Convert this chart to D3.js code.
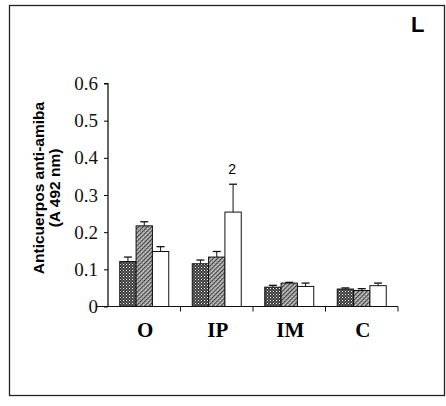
<!DOCTYPE html>
<html>
<head>
<meta charset="utf-8">
<script src="https://cdn.jsdelivr.net/npm/d3@7"></script>
<style>
  body { margin: 0; background: #fff; }
  svg { display: block; }
</style>
</head>
<body>
<div id="chart"></div>
<script>
"use strict";

// data
var groups = ["O", "IP", "IM", "C"];
var series = ["s1", "s2", "s3"];
var means = [
  [0.121, 0.217, 0.148],
  [0.115, 0.133, 0.254],
  [0.052, 0.063, 0.054],
  [0.047, 0.043, 0.056]
];
var errors = [
  [0.012, 0.011, 0.013],
  [0.010, 0.015, 0.075],
  [0.005, 0.002, 0.009],
  [0.003, 0.005, 0.007]
];
var yTicks = [0, 0.1, 0.2, 0.3, 0.4, 0.5, 0.6];
var annotations = [{ group: "IP", series: "s3", text: "2" }];

var W = 446, H = 406;
var plot = { left: 108, right: 398, top: 83.5, bottom: 306.5 };

var svg = d3.select("#chart").append("svg").attr("width", W).attr("height", H);

// fill patterns for the three series
var defs = svg.append("defs");
var p1 = defs.append("pattern").attr("id", "pat1").attr("patternUnits", "userSpaceOnUse")
  .attr("width", 3).attr("height", 3);
p1.append("rect").attr("width", 3).attr("height", 3).attr("fill", "#3a3a3a");
p1.append("rect").attr("width", 1).attr("height", 1).attr("fill", "#fff");
p1.append("rect").attr("x", 1.5).attr("y", 1.5).attr("width", 1).attr("height", 1).attr("fill", "#bbb");

var p2 = defs.append("pattern").attr("id", "pat2").attr("patternUnits", "userSpaceOnUse")
  .attr("width", 3).attr("height", 3).attr("patternTransform", "rotate(45)");
p2.append("rect").attr("width", 3).attr("height", 3).attr("fill", "#d0d0d0");
p2.append("rect").attr("width", 1.2).attr("height", 3).attr("fill", "#333");
p2.append("rect").attr("y", 1).attr("width", 3).attr("height", 0.6).attr("fill", "#777");

var fills = { s1: "url(#pat1)", s2: "url(#pat2)", s3: "#fff" };

// frame around the panel
svg.append("rect").attr("x", 9.5).attr("y", 5.5).attr("width", 435).attr("height", 390)
  .attr("fill", "none").attr("stroke", "#222").attr("stroke-width", 1.3);

svg.append("text").attr("x", 411).attr("y", 32)
  .style("font-family", "Liberation Sans, Arial, sans-serif").style("font-size", "22px")
  .style("font-weight", "bold").text("L");

var x = d3.scaleBand().domain(groups).range([plot.left, plot.right]).paddingInner(0).paddingOuter(0);
var xInner = d3.scaleBand().domain(series).range([0, 49]);
var y = d3.scaleLinear().domain([0, 0.6]).range([plot.bottom, plot.top]);

var chart = svg.append("g");

// y axis
var yAxis = d3.axisLeft(y).tickValues(yTicks).tickSize(4).tickPadding(6)
  .tickFormat(function (d) { return d === 0 ? "0" : d3.format(".1f")(d); });
var gy = chart.append("g").attr("transform", "translate(" + plot.left + ",0)").call(yAxis);
gy.select(".domain").attr("d", "M-4," + plot.top + "H0V" + plot.bottom).attr("stroke-width", 1.2);
gy.selectAll("text").style("font-family", "Liberation Serif, Times New Roman, serif")
  .style("font-size", "19px").attr("fill", "#111");

// x axis with small ticks at band edges
var gx = chart.append("g").attr("transform", "translate(0," + plot.bottom + ")");
gx.append("line").attr("x1", plot.left - 12).attr("x2", plot.right).attr("stroke", "#111").attr("stroke-width", 1.2);
gx.selectAll(".xt").data(groups).enter().append("line").attr("class", "xt")
  .attr("x1", function (d) { return x(d) + x.bandwidth(); })
  .attr("x2", function (d) { return x(d) + x.bandwidth(); })
  .attr("y1", 0).attr("y2", 5).attr("stroke", "#111");
gx.selectAll(".xl").data(groups).enter().append("text").attr("class", "xl")
  .attr("x", function (d) { return x(d) + x.bandwidth() / 2 + 1; })
  .attr("y", 30).attr("text-anchor", "middle")
  .style("font-family", "Liberation Serif, Times New Roman, serif").style("font-size", "21px")
  .style("font-weight", "bold").text(function (d) { return d; });

// bars
var rows = [];
groups.forEach(function (g, i) {
  series.forEach(function (s, j) {
    rows.push({ group: g, series: s, value: means[i][j], err: errors[i][j] });
  });
});
var barX = function (d) { return x(d.group) + (x.bandwidth() - 49) / 2 + xInner(d.series); };

var bars = chart.append("g").selectAll("g").data(rows).enter().append("g");
bars.append("line")
  .attr("x1", function (d) { return barX(d) + xInner.bandwidth() / 2; })
  .attr("x2", function (d) { return barX(d) + xInner.bandwidth() / 2; })
  .attr("y1", function (d) { return y(d.value); })
  .attr("y2", function (d) { return y(d.value + d.err); })
  .attr("stroke", "#111");
bars.append("line")
  .attr("x1", function (d) { return barX(d) + xInner.bandwidth() / 2 - 4; })
  .attr("x2", function (d) { return barX(d) + xInner.bandwidth() / 2 + 4; })
  .attr("y1", function (d) { return y(d.value + d.err); })
  .attr("y2", function (d) { return y(d.value + d.err); })
  .attr("stroke", "#111").attr("stroke-width", 1.3);
bars.append("rect")
  .attr("x", barX).attr("width", xInner.bandwidth())
  .attr("y", function (d) { return y(d.value); })
  .attr("height", function (d) { return y(0) - y(d.value); })
  .attr("fill", function (d) { return fills[d.series]; })
  .attr("stroke", "#111").attr("stroke-width", 1);

// annotation above error bar
annotations.forEach(function (a) {
  var r = rows.filter(function (d) { return d.group === a.group && d.series === a.series; })[0];
  chart.append("text").attr("x", barX(r) + xInner.bandwidth() / 2 - 1)
    .attr("y", y(r.value + r.err) - 10).attr("text-anchor", "middle")
    .style("font-family", "Liberation Sans, Arial, sans-serif").style("font-size", "14px")
    .text(a.text);
});

// y axis title
var title = svg.append("text").attr("transform", "translate(45,188) rotate(-90)")
  .attr("text-anchor", "middle")
  .style("font-family", "Liberation Sans, Arial, sans-serif").style("font-size", "15.5px")
  .style("font-weight", "bold");
title.append("tspan").attr("x", 0).attr("y", -1).text("Anticuerpos anti-amiba");
title.append("tspan").attr("x", 0).attr("y", 15).text("(A 492 nm)");
</script>
</body>
</html>
